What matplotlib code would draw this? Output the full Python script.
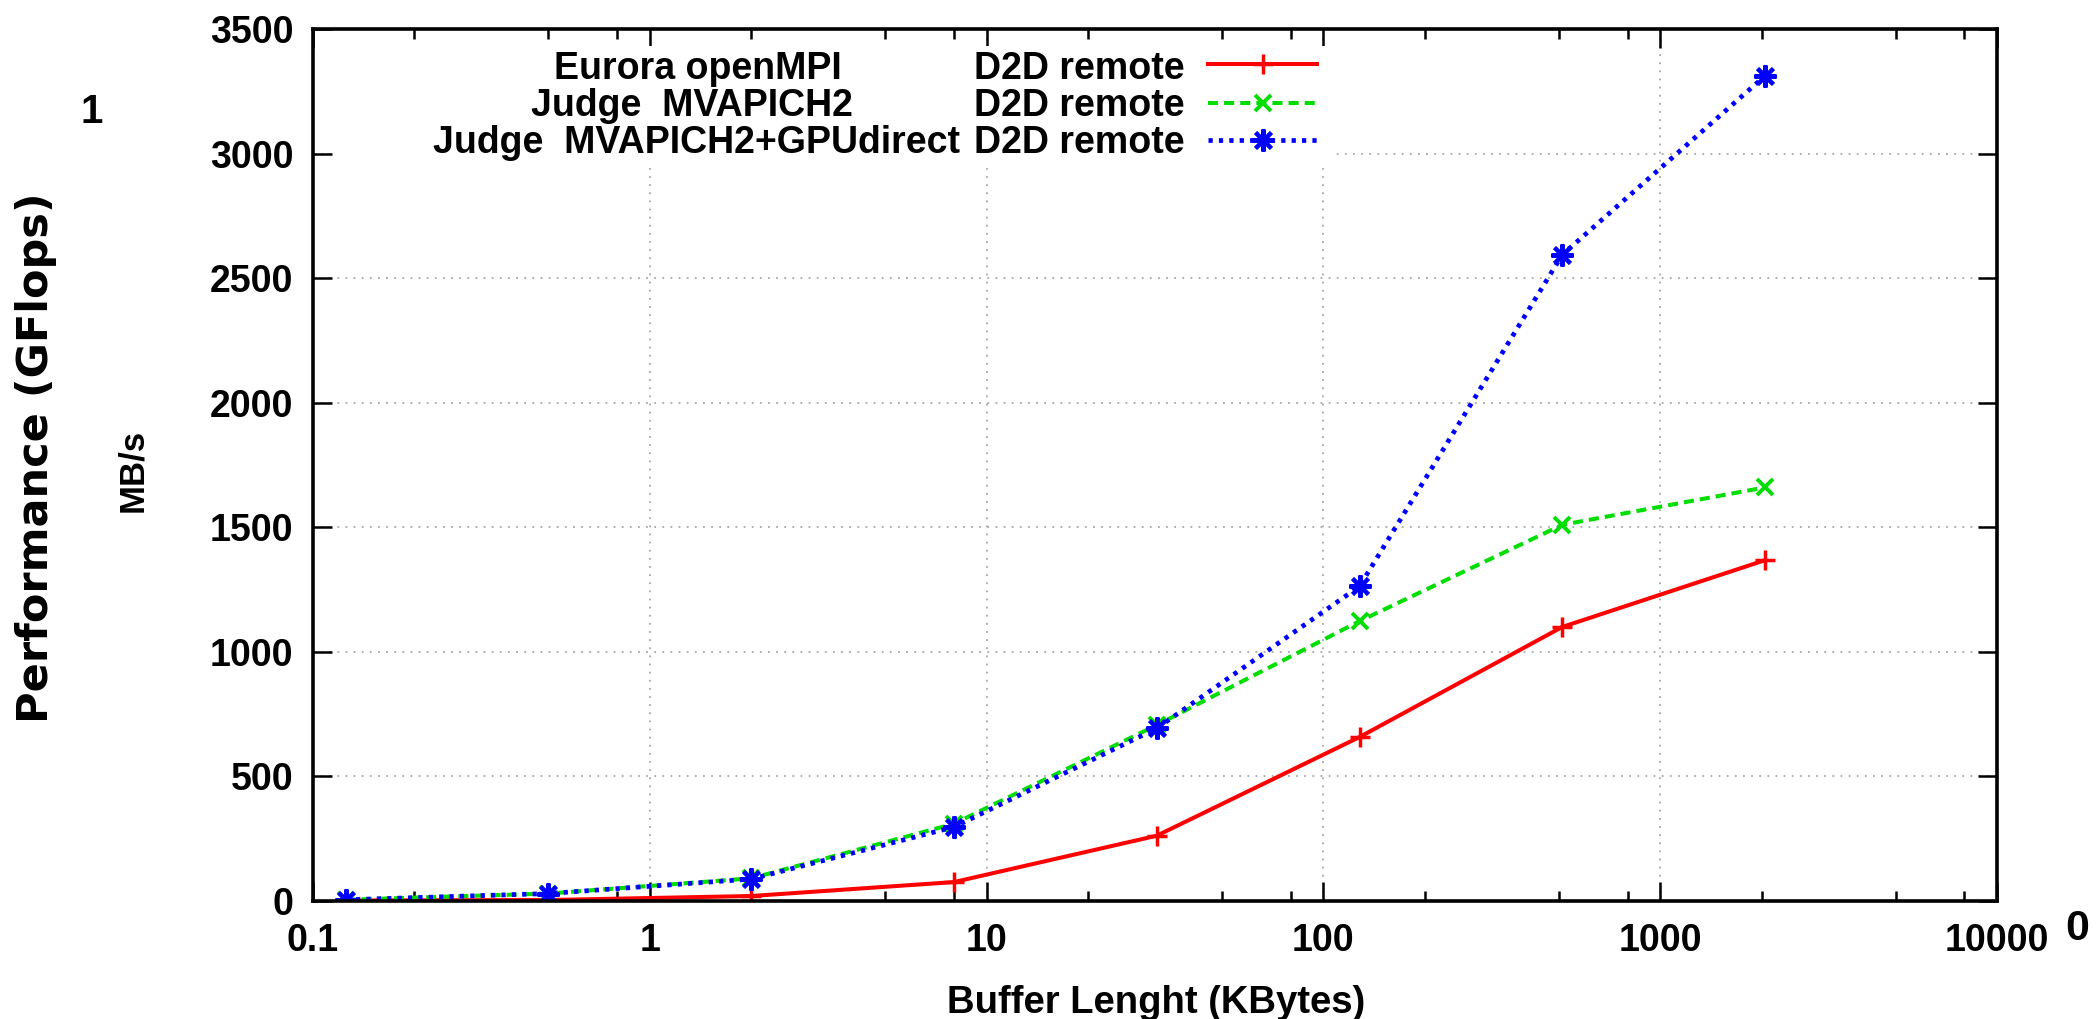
import matplotlib
matplotlib.use("Agg")
import matplotlib.pyplot as plt
from matplotlib.lines import Line2D
from matplotlib.patches import Rectangle
from matplotlib.ticker import LogLocator, MultipleLocator, FixedFormatter, FixedLocator, NullFormatter

plt.rcParams['font.family'] = ['Liberation Sans', 'DejaVu Sans']
plt.rcParams['font.weight'] = 'bold'

# buffer sizes (KBytes) and bandwidth (MB/s)
buf_kb = [0.125, 0.5, 2, 8, 32, 128, 512, 2048]
eurora_openmpi = [2, 4, 20, 76, 262, 658, 1100, 1368]
judge_mvapich2 = [5, 30, 91, 310, 706, 1123, 1510, 1660]
judge_gpudirect = [5, 30, 88, 297, 693, 1263, 2594, 3312]

names = ["Eurora openMPI", "Judge  MVAPICH2", "Judge  MVAPICH2+GPUdirect"]
kind = "D2D remote"
xticks = [0.1, 1, 10, 100, 1000, 10000]
xtick_labels = ["0.1", "1", "10", "100", "1000", "10000"]

W, H = 2099, 1019
fig = plt.figure(figsize=(W / 100, H / 100), dpi=100)

def fx(p):
    return p / W

def fy(p):
    return 1 - p / H

ax = fig.add_axes([fx(313), fy(901), fx(1997 - 313), (901 - 29) / H])

red, green, blue = '#ff0000', '#00dd00', '#0000ff'
styles = [
    dict(color=red, lw=2.9, ls='-', marker='+', ms=14, mew=2.5),
    dict(color=green, lw=2.9, ls=(0, (2.5, 1.5)), marker='x', ms=12, mew=2.8),
    dict(color=blue, lw=3.4, ls=(0, (0.9, 1.3)), marker=(8, 2, 0), ms=16, mew=2.9),
]
for ys, st in zip([eurora_openmpi, judge_mvapich2, judge_gpudirect], styles):
    ax.plot(buf_kb, ys, zorder=3, **st)

ax.set_xscale('log')
ax.set_xlim(0.1, 10000)
ax.set_ylim(0, 3500)
ax.xaxis.set_major_locator(FixedLocator(xticks))
ax.xaxis.set_major_formatter(FixedFormatter(xtick_labels))
ax.xaxis.set_minor_locator(LogLocator(base=10, subs=[2, 5, 8], numticks=20))
ax.xaxis.set_minor_formatter(NullFormatter())
ax.yaxis.set_major_locator(MultipleLocator(500))

ax.tick_params(which='both', direction='in', top=True, right=True, width=1.8, color='black')
ax.tick_params(which='major', length=14, labelsize=27)
ax.tick_params(which='minor', length=7)
ax.tick_params(axis='x', pad=16)
ax.tick_params(axis='y', pad=14)
for s in ax.spines.values():
    s.set_linewidth(2.6)
    s.set_zorder(4)

ax.grid(True, which='major', color='#a8a8a8', ls=(0, (1, 3.5)), lw=1.3)
ax.set_axisbelow('line')

# white key box hides the grid behind the legend
ax.add_patch(Rectangle((fx(336), fy(162)), fx(1335 - 336), (162 - 46) / H,
                       transform=fig.transFigure, facecolor='white',
                       edgecolor='none', zorder=1.8, clip_on=False))

# key: right-aligned labels with sample lines on the right
name_right = [842, 853, 960]
baselines = [79, 116, 153]
sample_y = [64, 103, 140]
for name, xr, yb, ysamp, st in zip(names, name_right, baselines, sample_y, styles):
    fig.text(fx(xr), fy(yb), name, ha='right', va='baseline', fontsize=27)
    fig.text(fx(1185), fy(yb), kind, ha='right', va='baseline', fontsize=27)
    fig.add_artist(Line2D([fx(1208), fx(1263), fx(1317)], [fy(ysamp)] * 3,
                          transform=fig.transFigure, markevery=[1], **st))

fig.text(fx(1156), fy(1013), "Buffer Lenght (KBytes)", ha='center', va='baseline', fontsize=27.5)
fig.text(fx(36), fy(458), "Performance (GFlops)", rotation=90, ha='center', va='center',
         fontsize=31, family=['DejaVu Sans'])
fig.text(fx(133), fy(470), "MB/s", rotation=90, ha='center', va='center', fontsize=25)
fig.text(fx(92), fy(112), "1", ha='center', va='center', fontsize=29)
fig.text(fx(2077), fy(929), "0", ha='center', va='center', fontsize=31)

fig.savefig('out.png', dpi=100, facecolor='white')
